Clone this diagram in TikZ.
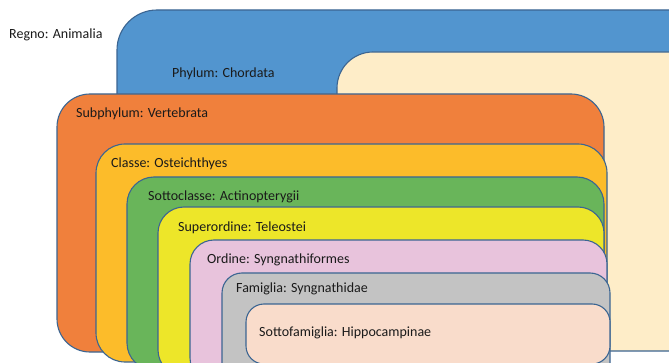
\documentclass[tikz,border=0pt]{standalone}
\usepackage{fontspec}
\setmainfont{Carlito}
\definecolor{cblue}{HTML}{5295CF}
\definecolor{ccream}{HTML}{FEEDC8}
\definecolor{corange}{HTML}{F0803C}
\definecolor{cclasse}{HTML}{FCBC2A}
\definecolor{cgreen}{HTML}{69B55A}
\definecolor{cyellow}{HTML}{EDE629}
\definecolor{cpink}{HTML}{E8C3DC}
\definecolor{cgray}{HTML}{C3C3C3}
\definecolor{cpeach}{HTML}{F9DCCB}
\definecolor{cborder}{HTML}{3B6592}
\definecolor{ctext}{HTML}{1A1A1A}
\tikzset{
  taxbox/.style={draw=cborder, line width=1.1pt},
  taxlabel/.style={anchor=base west, inner sep=0pt, text=ctext, font=\fontsize{14}{16}\selectfont}
}
\begin{document}
\begin{tikzpicture}[x=1pt,y=-1pt]
\useasboundingbox (0,0) rectangle (669,363);
\clip (0,0) rectangle (669,363);
\fill[white] (0,0) rectangle (669,363);
% Regno
\draw[taxbox, fill=cblue, rounded corners=40pt] (117,10) rectangle (720,345);
% Phylum inner
\draw[taxbox, fill=ccream, rounded corners=36pt] (337,52) rectangle (720,351);
% Subphylum
\draw[taxbox, fill=corange, rounded corners=33pt] (57,94) rectangle (604,352);
% Classe
\draw[taxbox, fill=cclasse, rounded corners=29pt] (96,144) rectangle (607,362);
% Sottoclasse
\draw[taxbox, fill=cgreen, rounded corners=27pt] (127,177) rectangle (604,370);
% Superordine
\draw[taxbox, fill=cyellow, rounded corners=26pt] (158,207) rectangle (604,376);
% Ordine
\draw[taxbox, fill=cpink, rounded corners=24pt] (190,240) rectangle (607,382);
% Famiglia
\draw[taxbox, fill=cgray, rounded corners=20pt] (222,273) rectangle (610,388);
% Sottofamiglia
\draw[taxbox, fill=cpeach, rounded corners=18pt] (246,304) rectangle (610,364);
% labels
\node[taxlabel] (regno) at (9,39) {Regno: Animalia};
\node[taxlabel] (phylum) at (172,77.5) {Phylum: Chordata};
\node[taxlabel] (subphylum) at (76,118) {Subphylum: Vertebrata};
\node[taxlabel] (classe) at (111,168) {Classe: Osteichthyes};
\node[taxlabel] (sottoclasse) at (148,200.5) {Sottoclasse: Actinopterygii};
\node[taxlabel] (superordine) at (178,231.5) {Superordine: Teleostei};
\node[taxlabel] (ordine) at (207,264) {Ordine: Syngnathiformes};
\node[taxlabel] (famiglia) at (236,292) {Famiglia: Syngnathidae};
\node[taxlabel] (sottofamiglia) at (259,336) {Sottofamiglia: Hippocampinae};
\end{tikzpicture}
\end{document}
